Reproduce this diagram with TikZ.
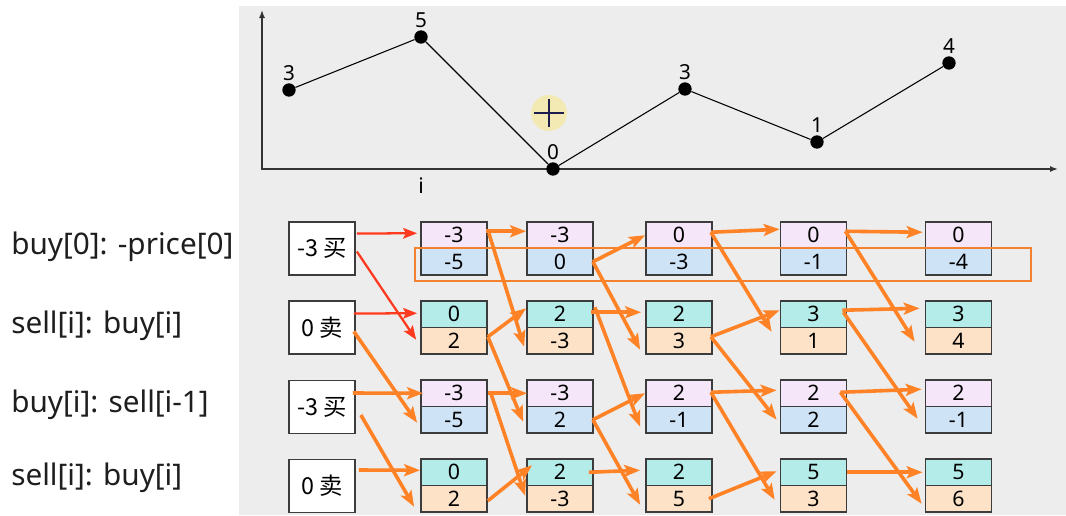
\documentclass[tikz,border=0pt]{standalone}
\usepackage{fontspec}
\setmainfont{Noto Sans}
\newfontfamily\cjk{Noto Sans CJK SC}
\usetikzlibrary{arrows.meta}
\definecolor{bgGray}{HTML}{EDEDED}
\definecolor{buyTop}{HTML}{F5E6FA}
\definecolor{buyBot}{HTML}{CFE3F7}
\definecolor{sellTop}{HTML}{B4ECEA}
\definecolor{sellBot}{HTML}{FDE2C8}
\definecolor{cellLine}{HTML}{3C3C3C}
\definecolor{arrO}{HTML}{FF8326}
\definecolor{arrR}{HTML}{FF3B1F}
\definecolor{hlO}{HTML}{F4812D}
\definecolor{labText}{HTML}{1E1E1E}
\definecolor{curYel}{HTML}{F2EAB2}
\definecolor{curPlus}{HTML}{1C1C4E}
\begin{document}
\begin{tikzpicture}[x=0.75pt,y=-0.75pt,
  cell/.style={draw=cellLine, line width=1.3pt, minimum width=49.5pt, minimum height=19.875pt, inner sep=0pt, font=\fontsize{16}{18}\selectfont, text=black},
  bt/.style={cell, fill=buyTop}, bb/.style={cell, fill=buyBot},
  st/.style={cell, fill=sellTop}, sb/.style={cell, fill=sellBot},
  startbox/.style={draw=cellLine, fill=white, line width=1.3pt, minimum width=49.5pt, minimum height=39.75pt, inner sep=0pt, font=\cjk\fontsize{17.5}{20}\selectfont},
  oarr/.style={draw=arrO, line width=2.7pt, -{Stealth[length=12pt,width=9pt,inset=2.5pt]}},
  rarr/.style={draw=arrR, line width=1.7pt, -{Stealth[length=10.5pt,width=8pt,inset=2pt]}},
  hlbox/.style={draw=hlO, line width=2.2pt, minimum width=462pt, minimum height=24.75pt, inner sep=0pt},
  leftlab/.style={anchor=west, inner sep=0pt, text=labText, font=\fontsize{22.3}{26}\selectfont},
  dot/.style={circle, fill=black, inner sep=0pt, minimum size=10pt},
  ptlab/.style={anchor=base, inner sep=0pt, font=\fontsize{15.5}{17}\selectfont},
  chartline/.style={draw=black, line width=0.8pt},
  axisline/.style={draw=black!80, line width=1.1pt, -{Latex[length=6pt,width=4.5pt]}}
]
\useasboundingbox (0,0) rectangle (1066,515);
\fill[bgGray] (239,6) rectangle (1066,515);

% ---- chart ----
\coordinate (O) at (262,169);
\coordinate (Ytop) at (262,10);
\coordinate (Xend) at (1058,169);
\draw[axisline] (O) -- (Ytop);
\draw[axisline] ([shift={(-1,0)}]O) -- (Xend);
\node[circle, fill=curYel, inner sep=0pt, minimum size=27pt] (cur) at (549,113) {};
\draw[curPlus, line width=1.8pt] ([shift={(-15,0)}]cur.center) -- ([shift={(15,0)}]cur.center);
\draw[curPlus, line width=1.8pt] ([shift={(0,-14)}]cur.center) -- ([shift={(0,14)}]cur.center);
\node[dot] (p1) at (289,90) {};
\node[dot] (p2) at (421,37) {};
\node[dot] (p3) at (553,169) {};
\node[dot] (p4) at (685,89) {};
\node[dot] (p5) at (817,142) {};
\node[dot] (p6) at (949,63) {};
\draw[chartline] (p1) -- (p2) -- (p3) -- (p4) -- (p5) -- (p6);
\node[ptlab] (t1) at ([shift={(0,-10)}]p1.center) {3};
\node[ptlab] (t2) at ([shift={(0,-10)}]p2.center) {5};
\node[ptlab] (t3) at ([shift={(0,-10)}]p3.center) {0};
\node[ptlab] (t4) at ([shift={(0,-10)}]p4.center) {3};
\node[ptlab] (t5) at ([shift={(0,-10)}]p5.center) {1};
\node[ptlab] (t6) at ([shift={(0,-10)}]p6.center) {4};
\node[inner sep=0pt, font=\fontsize{16}{18}\selectfont] (ilab) at (421,186) {i};

% ---- left labels ----
\node[leftlab] (l1) at (11,247) {buy[0]: -price[0]};
\node[leftlab] (l2) at (11,326) {sell[i]: buy[i]};
\node[leftlab] (l3) at (11,405) {buy[i]: sell[i-1]};
\node[leftlab] (l4) at (11,478) {sell[i]: buy[i]};

% ---- start boxes ----
\node[startbox] (b1) at (322,248.5) {-3 买};
\node[startbox] (b2) at (322,327.5) {0 卖};
\node[startbox] (b3) at (322,407) {-3 买};
\node[startbox] (b4) at (322,486) {0 卖};

% ---- cells: row 1 (buy) ----
\node[bt] (c11t) at (454,235.25) {-3};   \node[bb] (c11b) at (454,261.75) {-5};
\node[bt] (c21t) at (560,235.25) {-3};   \node[bb] (c21b) at (560,261.75) {0};
\node[bt] (c31t) at (679,235.25) {0};    \node[bb] (c31b) at (679,261.75) {-3};
\node[bt] (c41t) at (813.5,235.25) {0};  \node[bb] (c41b) at (813.5,261.75) {-1};
\node[bt] (c51t) at (958.5,235.25) {0};  \node[bb] (c51b) at (958.5,261.75) {-4};
% row 2 (sell)
\node[st] (c12t) at (454,314.25) {0};    \node[sb] (c12b) at (454,340.75) {2};
\node[st] (c22t) at (560,314.25) {2};    \node[sb] (c22b) at (560,340.75) {-3};
\node[st] (c32t) at (679,314.25) {2};    \node[sb] (c32b) at (679,340.75) {3};
\node[st] (c42t) at (813.5,314.25) {3};  \node[sb] (c42b) at (813.5,340.75) {1};
\node[st] (c52t) at (958.5,314.25) {3};  \node[sb] (c52b) at (958.5,340.75) {4};
% row 3 (buy)
\node[bt] (c13t) at (454,393.25) {-3};   \node[bb] (c13b) at (454,419.75) {-5};
\node[bt] (c23t) at (560,393.25) {-3};   \node[bb] (c23b) at (560,419.75) {2};
\node[bt] (c33t) at (679,393.25) {2};    \node[bb] (c33b) at (679,419.75) {-1};
\node[bt] (c43t) at (813.5,393.25) {2};  \node[bb] (c43b) at (813.5,419.75) {2};
\node[bt] (c53t) at (958.5,393.25) {2};  \node[bb] (c53b) at (958.5,419.75) {-1};
% row 4 (sell)
\node[st] (c14t) at (454,472.25) {0};    \node[sb] (c14b) at (454,498.75) {2};
\node[st] (c24t) at (560,472.25) {2};    \node[sb] (c24b) at (560,498.75) {-3};
\node[st] (c34t) at (679,472.25) {2};    \node[sb] (c34b) at (679,498.75) {5};
\node[st] (c44t) at (813.5,472.25) {5};  \node[sb] (c44b) at (813.5,498.75) {3};
\node[st] (c54t) at (958.5,472.25) {5};  \node[sb] (c54b) at (958.5,498.75) {6};

% ---- highlight ----
\node[hlbox] (hl) at (723,264.5) {};

% ---- red arrows ----
\draw[rarr] ([shift={(1,-15)}]b1.east) -- ([shift={(-3,-2)}]c11t.west);
\draw[rarr] ([shift={(1,3)}]b1.east) -- ([shift={(-4,-1)}]c12b.west);
\draw[rarr] ([shift={(-2,-14)}]b2.east) -- ([shift={(-3,-1)}]c12t.west);

% ---- orange arrows from start boxes ----
\draw[oarr] ([shift={(-2,4)}]b2.east) -- ([shift={(-3,3)}]c13b.west);
\draw[oarr] ([shift={(-3,-14)}]b3.east) -- ([shift={(3,0)}]c13t.west);
\draw[oarr] ([shift={(5,8)}]b3.east) -- ([shift={(-6,8)}]c14b.west);
\draw[oarr] ([shift={(3,-16)}]b4.east) -- ([shift={(0,-2)}]c14t.west);

% ---- row 1 ----
\draw[oarr] ([shift={(-2,-4)}]c11t.east) -- ([shift={(0,-4)}]c21t.west);
\draw[oarr] ([shift={(1,-2)}]c11t.east) -- ([shift={(-2,6)}]c22b.west);
\draw[oarr] ([shift={(-1,0)}]c21b.east) -- (c31t.west);
\draw[oarr] ([shift={(-1,0)}]c21b.east) -- ([shift={(-5,9)}]c32b.west);
\draw[oarr] ([shift={(-2,-3)}]c31t.east) -- ([shift={(0,-6)}]c41t.west);
\draw[oarr] ([shift={(-2,-3)}]c31t.east) -- ([shift={(-8,-9)}]c42b.west);
\draw[oarr] ([shift={(-2,-4)}]c41t.east) -- ([shift={(-2,-3)}]c51t.west);
\draw[oarr] ([shift={(-2,-4)}]c41t.east) -- ([shift={(-10,1)}]c52b.west);

% ---- row 2 ----
\draw[oarr] ([shift={(0,-4)}]c12b.east) -- ([shift={(0,-6)}]c22t.west);
\draw[oarr] ([shift={(0,-4)}]c12b.east) -- ([shift={(-3,2)}]c23b.west);
\draw[oarr] ([shift={(-3,-2)}]c22t.east) -- ([shift={(-4,-2)}]c32t.west);
\draw[oarr] ([shift={(1,-7)}]c22t.east) -- ([shift={(-5,7)}]c33b.west);
\draw[oarr] ([shift={(-2,-4)}]c32b.east) -- ([shift={(0,-4)}]c42t.west);
\draw[oarr] ([shift={(-2,-4)}]c32b.east) -- ([shift={(-3,0)}]c43b.west);
\draw[oarr] ([shift={(-5,-4)}]c42t.east) -- ([shift={(-5,-6)}]c52t.west);
\draw[oarr] ([shift={(-4,-2)}]c42t.east) -- ([shift={(-7,-1)}]c53b.west);

% ---- row 3 ----
\draw[oarr] (c13t.east) -- ([shift={(1,0)}]c23t.west);
\draw[oarr] ([shift={(3,0)}]c13t.east) -- ([shift={(-1,-3)}]c24b.west);
\draw[oarr] ([shift={(-1,0)}]c23b.east) -- (c33t.west);
\draw[oarr] ([shift={(-1,0)}]c23b.east) -- ([shift={(-5,6)}]c34b.west);
\draw[oarr] ([shift={(-2,-1)}]c33t.east) -- ([shift={(-3,-3)}]c43t.west);
\draw[oarr] ([shift={(-2,-1)}]c33t.east) -- ([shift={(-5,1)}]c44b.west);
\draw[oarr] ([shift={(-7,-1)}]c43t.east) -- ([shift={(-3,-4)}]c53t.west);
\draw[oarr] ([shift={(-7,-1)}]c43t.east) -- ([shift={(-3,5)}]c54b.west);

% ---- row 4 ----
\draw[oarr] ([shift={(0,2)}]c14b.east) -- ([shift={(6,-7)}]c24t.west);
\draw[oarr] ([shift={(-5,0)}]c24t.east) -- ([shift={(-5,-2)}]c34t.west);
\draw[oarr] ([shift={(-4,0)}]c34b.east) -- ([shift={(-3,-1)}]c44t.west);
\draw[oarr] (c44t.east) -- ([shift={(-2,0)}]c54t.west);
\end{tikzpicture}
\end{document}
